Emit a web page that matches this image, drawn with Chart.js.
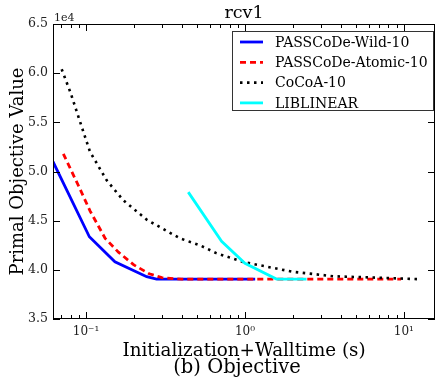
<!DOCTYPE html>
<html>
<head>
<meta charset="utf-8">
<script src="https://cdn.jsdelivr.net/npm/chart.js@4"></script>
<style>
  html, body { margin: 0; padding: 0; background: #fff; }
  #wrap { width: 443px; height: 383px; }
</style>
</head>
<body>
<div id="wrap"><canvas id="chart" width="443" height="383"></canvas></div>
<script>
// values, objective in units of 1e4
const wildTime = [0.062, 0.105, 0.152, 0.241, 0.278, 1.16];
const wildObj = [5.10, 4.336, 4.082, 3.93, 3.905, 3.905];

const atomicTime = [0.072, 0.09, 0.106, 0.132, 0.16, 0.2, 0.25, 0.3, 0.4, 9.6];
const atomicObj = [5.18, 4.85, 4.60, 4.32, 4.18, 4.05, 3.96, 3.92, 3.905, 3.905];

const cocoaTime = [0.0703, 0.08, 0.092, 0.106, 0.135, 0.171, 0.241, 0.39, 0.52, 0.66, 0.975, 2.0, 3.6, 12.6];
const cocoaObj = [6.04, 5.80, 5.50, 5.20, 4.91, 4.71, 4.51, 4.32, 4.25, 4.17, 4.08, 3.98, 3.935, 3.905];

const liblinearTime = [0.44, 0.713, 1.0, 1.58, 2.44];
const liblinearObj = [4.79, 4.29, 4.066, 3.906, 3.906];

const xMajorTicks = [0.1, 1, 10];
const xMinorTicks = [0.07, 0.08, 0.09, 0.2, 0.3, 0.4, 0.5, 0.6, 0.7, 0.8, 0.9, 2, 3, 4, 5, 6, 7, 8, 9];
const xTickLabels = { 0.1: "10\u207B\u00B9", 1: "10\u2070", 10: "10\u00B9" };
const yTicks = [3.5, 4.0, 4.5, 5.0, 5.5, 6.0, 6.5];

const serif = "'DejaVu Serif', serif";

function points(xs, ys) {
  return xs.map((x, i) => ({ x, y: ys[i] }));
}

const series = [
  { label: "PASSCoDe-Wild-10", data: points(wildTime, wildObj), borderColor: "#0000ff", borderWidth: 2.8, borderDash: [], order: 3 },
  { label: "PASSCoDe-Atomic-10", data: points(atomicTime, atomicObj), borderColor: "#ff0000", borderWidth: 2.8, borderDash: [6, 4], order: 2 },
  { label: "CoCoA-10", data: points(cocoaTime, cocoaObj), borderColor: "#000000", borderWidth: 2.6, borderDash: [2.5, 4.5], order: 1 },
  { label: "LIBLINEAR", data: points(liblinearTime, liblinearObj), borderColor: "#00ffff", borderWidth: 2.8, borderDash: [], order: 0 },
];

// frame, inward ticks, texts and boxed legend the matplotlib way
const decorations = {
  id: "decorations",
  afterDraw(chart) {
    const { ctx, chartArea: a, scales } = chart;
    ctx.save();
    ctx.strokeStyle = "#000";
    ctx.lineWidth = 1;
    ctx.strokeRect(a.left + 0.5, a.top + 0.5, a.right - a.left - 1, a.bottom - a.top - 1);

    ctx.beginPath();
    const tickX = (v, len) => {
      const px = Math.round(scales.x.getPixelForValue(v)) + 0.5;
      ctx.moveTo(px, a.bottom); ctx.lineTo(px, a.bottom - len);
      ctx.moveTo(px, a.top); ctx.lineTo(px, a.top + len);
    };
    xMajorTicks.forEach(v => tickX(v, 7));
    xMinorTicks.forEach(v => tickX(v, 4));
    yTicks.forEach(v => {
      const py = Math.round(scales.y.getPixelForValue(v)) + 0.5;
      ctx.moveTo(a.left, py); ctx.lineTo(a.left + 7, py);
      ctx.moveTo(a.right, py); ctx.lineTo(a.right - 7, py);
    });
    ctx.stroke();

    const mid = (a.left + a.right) / 2;
    ctx.fillStyle = "#000";
    ctx.textAlign = "center";
    ctx.textBaseline = "middle";
    ctx.font = "17.5px " + serif;
    ctx.fillText("rcv1", mid, 13);
    ctx.font = "18.3px " + serif;
    ctx.fillText("Initialization+Walltime (s)", mid, 351);
    ctx.font = "19.5px " + serif;
    ctx.fillText("(b) Objective", 237, 368);
    ctx.save();
    ctx.translate(18, (a.top + a.bottom) / 2);
    ctx.rotate(-Math.PI / 2);
    ctx.font = "18px " + serif;
    ctx.fillText("Primal Objective Value", 0, 0);
    ctx.restore();
    ctx.textAlign = "left";
    ctx.font = "11px " + serif;
    ctx.fillStyle = "#222";
    ctx.fillText("1e4", a.left + 1, 18);

    // legend
    const box = { left: 232, top: 31, right: 434, bottom: 111 };
    ctx.fillStyle = "#fff";
    ctx.fillRect(box.left, box.top, box.right - box.left, box.bottom - box.top);
    ctx.strokeStyle = "#333";
    ctx.lineWidth = 1;
    ctx.strokeRect(box.left + 0.5, box.top + 0.5, box.right - box.left - 1, box.bottom - box.top - 1);
    series.forEach((s, i) => {
      const y = 42 + i * 20.3;
      ctx.beginPath();
      ctx.strokeStyle = s.borderColor;
      ctx.lineWidth = s.borderWidth;
      ctx.setLineDash(s.borderDash);
      ctx.moveTo(240, y); ctx.lineTo(263, y);
      ctx.stroke();
      ctx.setLineDash([]);
      ctx.fillStyle = "#000";
      ctx.font = "14px " + serif;
      ctx.fillText(s.label, 275, y + 1);
    });
    ctx.restore();
  }
};

new Chart(document.getElementById("chart"), {
  type: "line",
  data: {
    datasets: series.map(s => ({
      label: s.label,
      data: s.data,
      borderColor: s.borderColor,
      borderWidth: s.borderWidth,
      borderDash: s.borderDash,
      order: s.order,
      pointRadius: 0,
      tension: 0,
      fill: false,
    }))
  },
  options: {
    responsive: false,
    animation: false,
    layout: { padding: { top: 24, right: 8, left: 0, bottom: 0 } },
    plugins: {
      legend: { display: false },
      tooltip: { enabled: false },
    },
    scales: {
      x: {
        type: "logarithmic",
        min: 0.062,
        max: 15.7,
        afterFit: s => { s.height = 64; },
        afterBuildTicks: s => { s.ticks = xMajorTicks.map(v => ({ value: v })); },
        grid: { display: false, drawTicks: false },
        border: { display: false },
        ticks: {
          padding: 6,
          maxRotation: 0,
          autoSkip: false,
          color: "#222",
          font: { family: serif, size: 12 },
          callback: v => xTickLabels[v] || "",
        }
      },
      y: {
        min: 3.5,
        max: 6.5,
        afterFit: s => { s.width = 53; },
        afterBuildTicks: s => { s.ticks = yTicks.map(v => ({ value: v })); },
        grid: { display: false, drawTicks: false },
        border: { display: false },
        ticks: {
          padding: 5,
          color: "#222",
          font: { family: serif, size: 12.5 },
          callback: v => v.toFixed(1),
        }
      }
    }
  },
  plugins: [decorations]
});
</script>
</body>
</html>
